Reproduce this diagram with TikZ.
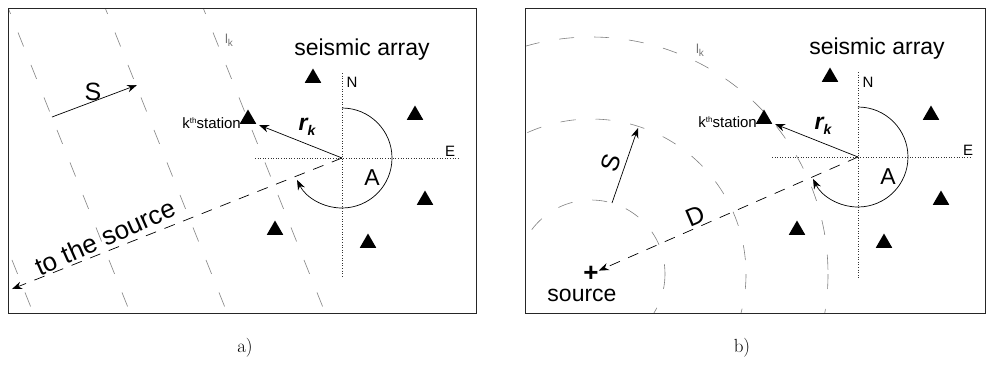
\documentclass[tikz,border=0pt]{standalone}
\usepackage{fontspec}
\newfontfamily\arial{Liberation Sans}
\usetikzlibrary{arrows.meta,shapes.geometric,calc}
\tikzset{
  frame/.style={draw=black!85,line width=0.8pt},
  wave/.style={draw=black!50,line width=0.6pt,dash pattern=on 15pt off 20pt},
  axisline/.style={draw=black!80,line width=0.6pt,dotted},
  ray/.style={draw=black,line width=0.7pt,dash pattern=on 11pt off 9pt},
  arr/.style={-{Stealth[length=10pt,width=7.5pt]},line width=0.7pt},
  tri/.style={regular polygon,regular polygon sides=3,fill=black,inner sep=0pt,minimum size=19pt},
  lab/.style={font=\arial\fontsize{23}{26}\selectfont,inner sep=0pt},
  biglab/.style={font=\arial\fontsize{25}{28}\selectfont,inner sep=0pt},
  small/.style={font=\arial\fontsize{15}{17}\selectfont,inner sep=0pt},
  lk/.style={font=\arial\fontsize{13}{15}\selectfont,text=black!55,inner sep=0pt},
  captxt/.style={font=\fontsize{19}{22}\selectfont,inner sep=0pt}
}
\newcommand{\kth}{k\raisebox{5pt}{\fontsize{8}{8}\selectfont th}station}
\newcommand{\rk}{\bfseries\itshape r\raisebox{-5pt}{\fontsize{14}{14}\selectfont k}}
\begin{document}
\begin{tikzpicture}[x=1pt,y=-1pt]
\useasboundingbox (0,0) rectangle (986,365);
% ================= panel a =================
\begin{scope}
\clip (8,8) rectangle (476,313);
\foreach \x in {-92,5,102,200}{
  \draw[wave] (\x,0) -- ({\x+132},330);
}
\end{scope}
\draw[frame] (8,8) rectangle (476,313);
\coordinate (Ca) at (342,158);
\coordinate (srcA) at (12,289);
\coordinate (tipA) at (259,125);
\draw[axisline] (342,73) -- (342,277);
\draw[axisline] (255,158) -- (458,158);
\node[small] (Na) at (352,82) {N};
\node[small] (Ea) at (450,151) {E};
\draw[ray,arr] (Ca) -- (srcA);
\node[font=\arial\fontsize{26}{28}\selectfont,inner sep=0pt,rotate=24] (tsA) at (105,237) {to the source};
\draw[arr] ($(Ca)+(0,-50)$) arc[start angle=-90,end angle=154,radius=50];
\node[lab] (Aa) at (372,178) {A};
\node[lab] (arrA) at (362,50) {seismic array};
\node[tri] (t1a) at (313,78) {};
\node[tri] (t2a) at (415,115) {};
\node[tri] (t3a) at (275,230) {};
\node[tri] (t4a) at (425,200) {};
\node[tri] (t5a) at (368,243) {};
\node[tri] (sta) at (248,119) {};
\draw[arr] (Ca) -- (tipA);
\node[small,anchor=base east] (ksa) at (241,128) {\kth};
\node[font=\arial\fontsize{23}{26}\selectfont,inner sep=0pt] (rka) at (307,127) {\rk};
\coordinate (s1a) at (52,117);
\coordinate (s2a) at (137,85);
\draw[arr] (s1a) -- (s2a);
\node[biglab] (Sa) at (93,92) {S};
\node[lk] (lka) at (229,40) {l\raisebox{-3pt}{\fontsize{10}{10}\selectfont k}};
\node[captxt] (capa) at (245,348) {a)};
% ================= panel b =================
\coordinate (Cb) at (858,157);
\node[font=\arial\bfseries\fontsize{26}{26}\selectfont,inner sep=0pt] (src) at (591,274) {+};
\begin{scope}
\clip (525,8) rectangle (985,313);
\foreach \r in {74,155,237}{
  \draw[wave] (591,274) circle[radius=\r];
}
\end{scope}
\draw[frame] (525,8) rectangle (985,313);
\draw[axisline] (858,72) -- (858,278);
\draw[axisline] (772,157) -- (972,157);
\node[small] (Nb) at (868,82) {N};
\node[small] (Eb) at (968,150) {E};
\draw[ray,arr] (Cb) -- (src);
\node[biglab,rotate=23] (Db) at (695,216) {D};
\node[lab] (srcl) at (582,295) {source};
\draw[arr] ($(Cb)+(0,-50)$) arc[start angle=-90,end angle=154,radius=50];
\node[lab] (Ab) at (888,177) {A};
\node[lab] (arrB) at (877,49) {seismic array};
\node[tri] (t1b) at (830,77) {};
\node[tri] (t2b) at (931,115) {};
\node[tri] (t3b) at (941,200) {};
\node[tri] (t4b) at (884,243) {};
\node[tri] (t5b) at (797,230) {};
\node[tri] (stb) at (764,119) {};
\coordinate (tipB) at (775,124);
\draw[arr] (Cb) -- (tipB);
\node[small,anchor=base east] (ksb) at (757,127) {\kth};
\node[font=\arial\fontsize{23}{26}\selectfont,inner sep=0pt] (rkb) at (823,126) {\rk};
\coordinate (s1b) at (612,203);
\coordinate (s2b) at (638,128);
\draw[arr] (s1b) -- (s2b);
\node[biglab,rotate=72] (Sb) at (611,163) {S};
\node[lk] (lkb) at (700,50) {l\raisebox{-3pt}{\fontsize{10}{10}\selectfont k}};
\node[captxt] (capb) at (742,348) {b)};
\end{tikzpicture}
\end{document}
